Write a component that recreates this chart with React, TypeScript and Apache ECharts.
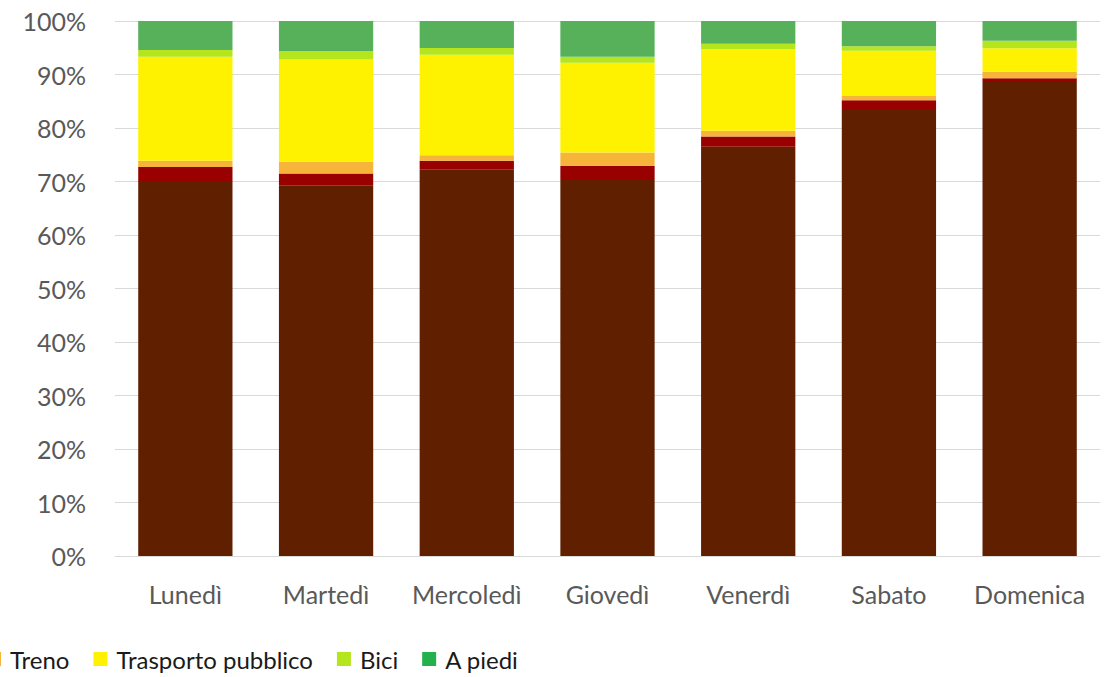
import React, { useEffect, useRef } from "react";
import * as echarts from "echarts";

const categories = ["Lunedì", "Martedì", "Mercoledì", "Giovedì", "Venerdì", "Sabato", "Domenica"];
const auto = [69.9, 69.2, 72.3, 70.3, 76.5, 83.55, 88.6];
const moto = [2.8, 2.3, 1.6, 2.6, 1.9, 1.65, 0.7];
const treno = [1.2, 2.2, 1.0, 2.5, 1.1, 0.8, 1.2];
const trasporto = [19.4, 19.1, 18.8, 16.8, 15.2, 8.45, 4.4];
const bici = [1.3, 1.6, 1.25, 1.1, 1.05, 0.85, 1.4];
const piedi = [5.4, 5.6, 5.05, 6.7, 4.25, 4.7, 3.7];
const yTicks = [0, 10, 20, 30, 40, 50, 60, 70, 80, 90, 100];

const FONT = "Lato, 'Noto Sans', sans-serif";

export default function App() {
  const ref = useRef<HTMLDivElement>(null);
  useEffect(() => {
    if (!ref.current) return;
    const chart = echarts.init(ref.current, null, { renderer: "svg" });
    const mk = (name: string, data: number[], color: string) => ({
      name,
      type: "bar",
      stack: "total",
      data,
      barCategoryGap: "33%",
      itemStyle: { color },
      emphasis: { disabled: true },
    });
    chart.setOption({
      animation: false,
      textStyle: { fontFamily: FONT },
      grid: { left: 115, right: 4, top: 21, bottom: 121, containLabel: false },
      legend: {
        left: -13,
        top: 647,
        padding: 0,
        icon: "rect",
        itemWidth: 14,
        itemHeight: 14,
        itemGap: 24,
        textStyle: { fontSize: 24, color: "#1a1a1a", fontFamily: FONT, padding: [0, 0, 0, 4] },
        data: [
          { name: "Treno" },
          { name: "Trasporto pubblico" },
          { name: "Bici" },
          { name: "A piedi", itemStyle: { color: "#22B14C" } },
        ],
      },
      xAxis: {
        type: "category",
        data: categories,
        axisLine: { lineStyle: { color: "#d9d9d9", width: 1 } },
        axisTick: { show: false },
        axisLabel: { color: "#595959", fontSize: 25, margin: 25, interval: 0, hideOverlap: false, fontFamily: FONT },
      },
      yAxis: {
        type: "value",
        min: yTicks[0],
        max: yTicks[yTicks.length - 1],
        interval: 10,
        axisLine: { show: false },
        axisTick: { show: false },
        splitLine: { lineStyle: { color: "#d9d9d9", width: 1 } },
        axisLabel: { color: "#595959", fontSize: 25, margin: 29, formatter: "{value}%", fontFamily: FONT },
      },
      series: [
        mk("Auto", auto, "#602000"),
        mk("Moto", moto, "#990000"),
        mk("Treno", treno, "#F6B53A"),
        mk("Trasporto pubblico", trasporto, "#FFF200"),
        mk("Bici", bici, "#B5E61D"),
        mk("A piedi", piedi, "#57B15A"),
      ],
    });
    return () => chart.dispose();
  }, []);
  return (
    <div
      ref={ref}
      style={{ position: "fixed", left: 0, top: 0, width: 1104, height: 677, background: "#fff" }}
    />
  );
}
